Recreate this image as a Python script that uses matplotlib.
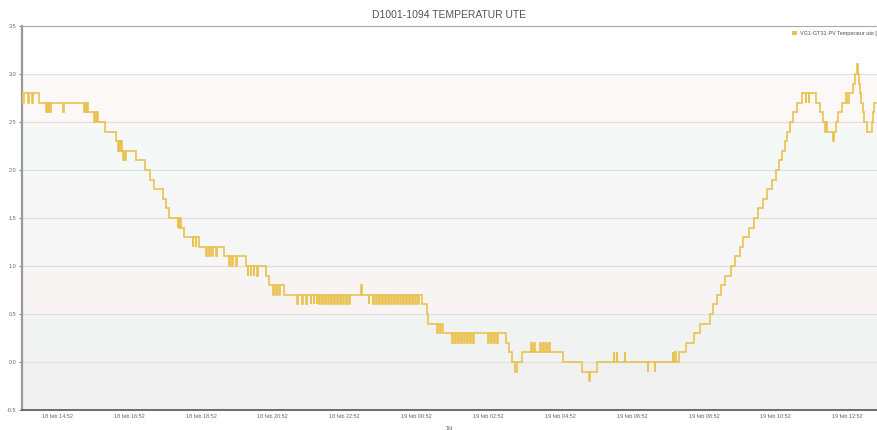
import numpy as np
import matplotlib.pyplot as plt
from matplotlib.patches import Patch

plt.rcParams['font.family'] = ['Liberation Sans', 'DejaVu Sans']

# Utetemperatur, minuter sedan 18 feb 00:00 och grader C (steg-data)
minutter = [
    832, 834, 836, 844, 845, 850, 851, 862, 874, 875, 877, 878, 880, 881, 902, 903,
    937, 938, 940, 941, 944, 954, 955, 957, 958, 960, 971, 991, 994, 995, 997, 998,
    1001, 1002, 1003, 1006, 1007, 1024, 1039, 1047, 1054, 1069, 1074, 1079,
    1093, 1094, 1096, 1097, 1099, 1104, 1118, 1119, 1123, 1124, 1128,
    1141, 1142, 1146, 1147, 1151, 1152, 1158, 1159, 1171,
    1179, 1180, 1184, 1185, 1191, 1192, 1208, 1210, 1211, 1215, 1216, 1220, 1221,
    1226, 1227, 1240, 1246, 1253, 1254, 1258, 1259, 1263, 1264, 1271,
    1293, 1294, 1301, 1302, 1308, 1309, 1315, 1316, 1320, 1321, 1325, 1326,
    1330, 1331, 1335, 1336, 1340, 1341, 1345, 1346, 1350, 1351, 1355, 1356,
    1360, 1361, 1365, 1366, 1370, 1371, 1375, 1376, 1380, 1381, 1400, 1401,
    1412, 1413, 1420, 1421, 1425, 1426, 1430, 1431, 1435, 1436, 1440, 1441,
    1445, 1446, 1450, 1451, 1455, 1456, 1460, 1461, 1465, 1466, 1470, 1471,
    1475, 1476, 1480, 1481, 1485, 1486, 1490, 1491, 1495, 1496,
    1502, 1509, 1512, 1527, 1528, 1532, 1533, 1537,
    1552, 1553, 1557, 1558, 1562, 1563, 1567, 1568, 1572, 1573, 1577, 1578,
    1582, 1583, 1587, 1588, 1612, 1613, 1617, 1618, 1622, 1623, 1627, 1628,
    1642, 1647, 1652, 1657, 1659, 1669,
    1684, 1685, 1689, 1690, 1699, 1700, 1704, 1705, 1709, 1710, 1714, 1715,
    1736, 1768, 1780, 1782, 1793,
    1821, 1822, 1826, 1827, 1840, 1841, 1878, 1879, 1890, 1891,
    1920, 1921, 1924, 1925, 1930, 1942, 1955, 1965, 1982, 1987, 1993, 2000,
    2007, 2017, 2024, 2032, 2038, 2047, 2055, 2062, 2070, 2077, 2085, 2092,
    2097, 2102, 2107, 2110, 2115, 2120, 2127, 2135, 2142, 2143, 2147, 2148,
    2159, 2165, 2171, 2174, 2175, 2177, 2187, 2190, 2193, 2196, 2202,
    2210, 2211, 2214, 2221, 2224, 2227, 2229, 2231, 2233, 2235, 2237, 2240,
    2244, 2252, 2254, 2256, 2258, 2261,
]
temp = [
    2.8, 2.7, 2.8, 2.7, 2.8, 2.7, 2.8, 2.7, 2.6, 2.7, 2.6, 2.7, 2.6, 2.7, 2.6, 2.7,
    2.6, 2.7, 2.6, 2.7, 2.6, 2.5, 2.6, 2.5, 2.6, 2.5, 2.4, 2.3, 2.2, 2.3, 2.2, 2.3,
    2.2, 2.1, 2.2, 2.1, 2.2, 2.1, 2.0, 1.9, 1.8, 1.7, 1.6, 1.5,
    1.4, 1.5, 1.4, 1.5, 1.4, 1.3, 1.2, 1.3, 1.2, 1.3, 1.2,
    1.1, 1.2, 1.1, 1.2, 1.1, 1.2, 1.1, 1.2, 1.1,
    1.0, 1.1, 1.0, 1.1, 1.0, 1.1, 1.0, 0.9, 1.0, 0.9, 1.0, 0.9, 1.0,
    0.9, 1.0, 0.9, 0.8, 0.7, 0.8, 0.7, 0.8, 0.7, 0.8, 0.7,
    0.6, 0.7, 0.6, 0.7, 0.6, 0.7, 0.6, 0.7, 0.6, 0.7, 0.6, 0.7,
    0.6, 0.7, 0.6, 0.7, 0.6, 0.7, 0.6, 0.7, 0.6, 0.7, 0.6, 0.7,
    0.6, 0.7, 0.6, 0.7, 0.6, 0.7, 0.6, 0.7, 0.6, 0.7, 0.8, 0.7,
    0.6, 0.7, 0.6, 0.7, 0.6, 0.7, 0.6, 0.7, 0.6, 0.7, 0.6, 0.7,
    0.6, 0.7, 0.6, 0.7, 0.6, 0.7, 0.6, 0.7, 0.6, 0.7, 0.6, 0.7,
    0.6, 0.7, 0.6, 0.7, 0.6, 0.7, 0.6, 0.7, 0.6, 0.7,
    0.6, 0.5, 0.4, 0.3, 0.4, 0.3, 0.4, 0.3,
    0.2, 0.3, 0.2, 0.3, 0.2, 0.3, 0.2, 0.3, 0.2, 0.3, 0.2, 0.3,
    0.2, 0.3, 0.2, 0.3, 0.2, 0.3, 0.2, 0.3, 0.2, 0.3, 0.2, 0.3,
    0.2, 0.1, 0.0, -0.1, 0.0, 0.1,
    0.2, 0.1, 0.2, 0.1, 0.2, 0.1, 0.2, 0.1, 0.2, 0.1, 0.2, 0.1,
    0.0, -0.1, -0.2, -0.1, 0.0,
    0.1, 0.0, 0.1, 0.0, 0.1, 0.0, -0.1, 0.0, -0.1, 0.0,
    0.1, 0.0, 0.1, 0.0, 0.1, 0.2, 0.3, 0.4, 0.5, 0.6, 0.7, 0.8,
    0.9, 1.0, 1.1, 1.2, 1.3, 1.4, 1.5, 1.6, 1.7, 1.8, 1.9, 2.0,
    2.1, 2.2, 2.3, 2.4, 2.5, 2.6, 2.7, 2.8, 2.7, 2.8, 2.7, 2.8,
    2.7, 2.6, 2.5, 2.4, 2.5, 2.4, 2.3, 2.4, 2.5, 2.6, 2.7,
    2.8, 2.7, 2.8, 2.9, 3.0, 3.1, 3.0, 2.9, 2.8, 2.7, 2.6, 2.5,
    2.4, 2.5, 2.6, 2.7, 2.7, 2.7,
]

tick_minutter = [892, 1012, 1132, 1252, 1372, 1492, 1612, 1732, 1852, 1972, 2092, 2212]
tick_etiketter = ["18 feb 14:52", "18 feb 16:52", "18 feb 18:52", "18 feb 20:52",
                  "18 feb 22:52", "19 feb 00:52", "19 feb 02:52", "19 feb 04:52",
                  "19 feb 06:52", "19 feb 08:52", "19 feb 10:52", "19 feb 12:52"]
y_ticks = [-0.5, 0.0, 0.5, 1.0, 1.5, 2.0, 2.5, 3.0, 3.5]

# bakgrundsband (fran, till, farg)
band = [(3.0, 3.5, '#ffffff'), (2.45, 3.0, '#fdf8f8'), (1.9, 2.45, '#f4f9f7'),
        (1.0, 1.9, '#f6f6f6'), (0.5, 1.0, '#f8f4f4'), (0.0, 0.5, '#f0f3f2'),
        (-0.5, 0.0, '#f0f0f0')]

linjefarg = '#eac250'

fig = plt.figure(figsize=(8.77, 4.30), dpi=100)
ax = fig.add_axes([22 / 877, 20 / 430, 855 / 877, 384 / 430])

for lo, hi, c in band:
    ax.axhspan(lo, hi, color=c, zorder=0, lw=0)

t = np.array(minutter) / 60.0
ax.plot(t, temp, drawstyle='steps-post', color=linjefarg, lw=1.2, zorder=3,
        solid_joinstyle='miter')

ax.set_xlim(833.2 / 60, 2261 / 60)
ax.set_ylim(-0.5, 3.5)
ax.set_yticks(y_ticks)
ax.set_yticklabels([f"{v:.1f}" for v in y_ticks])
ax.set_xticks(np.array(tick_minutter) / 60.0)
ax.set_xticklabels(tick_etiketter)

ax.set_axisbelow(True)
ax.yaxis.grid(True, color='#dedede', lw=0.8)
ax.tick_params(axis='y', labelsize=4, colors='#666666', length=2, pad=2, width=0.6)
ax.tick_params(axis='x', labelsize=4, colors='#666666', length=0, pad=3)

ax.spines['right'].set_visible(False)
ax.spines['left'].set_color('#999999')
ax.spines['left'].set_linewidth(1.6)
ax.spines['bottom'].set_color('#555555')
ax.spines['bottom'].set_linewidth(1.2)
ax.spines['top'].set_color('#aaaaaa')
ax.spines['top'].set_linewidth(0.8)

ax.set_xlabel("Tid", fontsize=4, color='#666666', labelpad=5)

fig.text(449 / 877, 1 - 15 / 430, "D1001-1094 TEMPERATUR UTE", ha='center', va='center',
         fontsize=7.5, color='#555555')

# forklaringen gar ut over hoger kant
fig.legend(handles=[Patch(facecolor=linjefarg, label="VG1-GT31-PV Temperatur ute [°C]")],
           loc='upper left', bbox_to_anchor=(789 / 877, 1 - 28 / 430), frameon=False,
           fontsize=4, handlelength=1.0, handleheight=0.9, handletextpad=0.4,
           borderpad=0, labelcolor='#555555')

fig.savefig("out.png", dpi=100)
